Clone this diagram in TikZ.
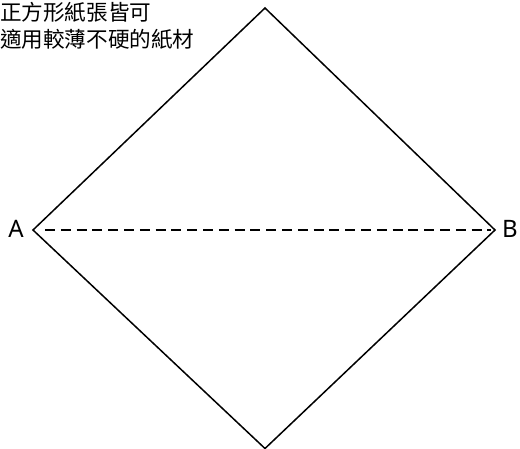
\documentclass[tikz,border=0pt]{standalone}
\usepackage{fontspec}
\setmainfont{Noto Sans}
\newfontfamily\cjk{Noto Sans CJK TC}
\begin{document}
\begin{tikzpicture}[x=1pt,y=-1pt,
  edge/.style={line width=1.5pt,black},
  fold/.style={line width=1.4pt,black,dash pattern=on 10pt off 5.8pt},
  lab/.style={font=\fontsize{24}{24}\selectfont,inner sep=0pt},
  note/.style={font=\cjk\fontsize{21.6}{27}\selectfont,inner sep=0pt,align=left,anchor=north west}]
\useasboundingbox (0,0) rectangle (520,448);
\coordinate (T) at (265,8);
\coordinate (L) at (33,230);
\coordinate (R) at (495,230);
\coordinate (D) at (265,448.5);
\draw[edge,line join=miter] (T) -- (R) -- (D) -- (L) -- cycle;
\draw[fold] ([xshift=12pt]L) -- ([xshift=-4pt]R);
\node[lab] (a) at (16,229) {A};
\node[lab] (b) at (510,229) {B};
\node[note] (n) at (0,2) {正方形紙張皆可\\適用較薄不硬的紙材};
\end{tikzpicture}
\end{document}
